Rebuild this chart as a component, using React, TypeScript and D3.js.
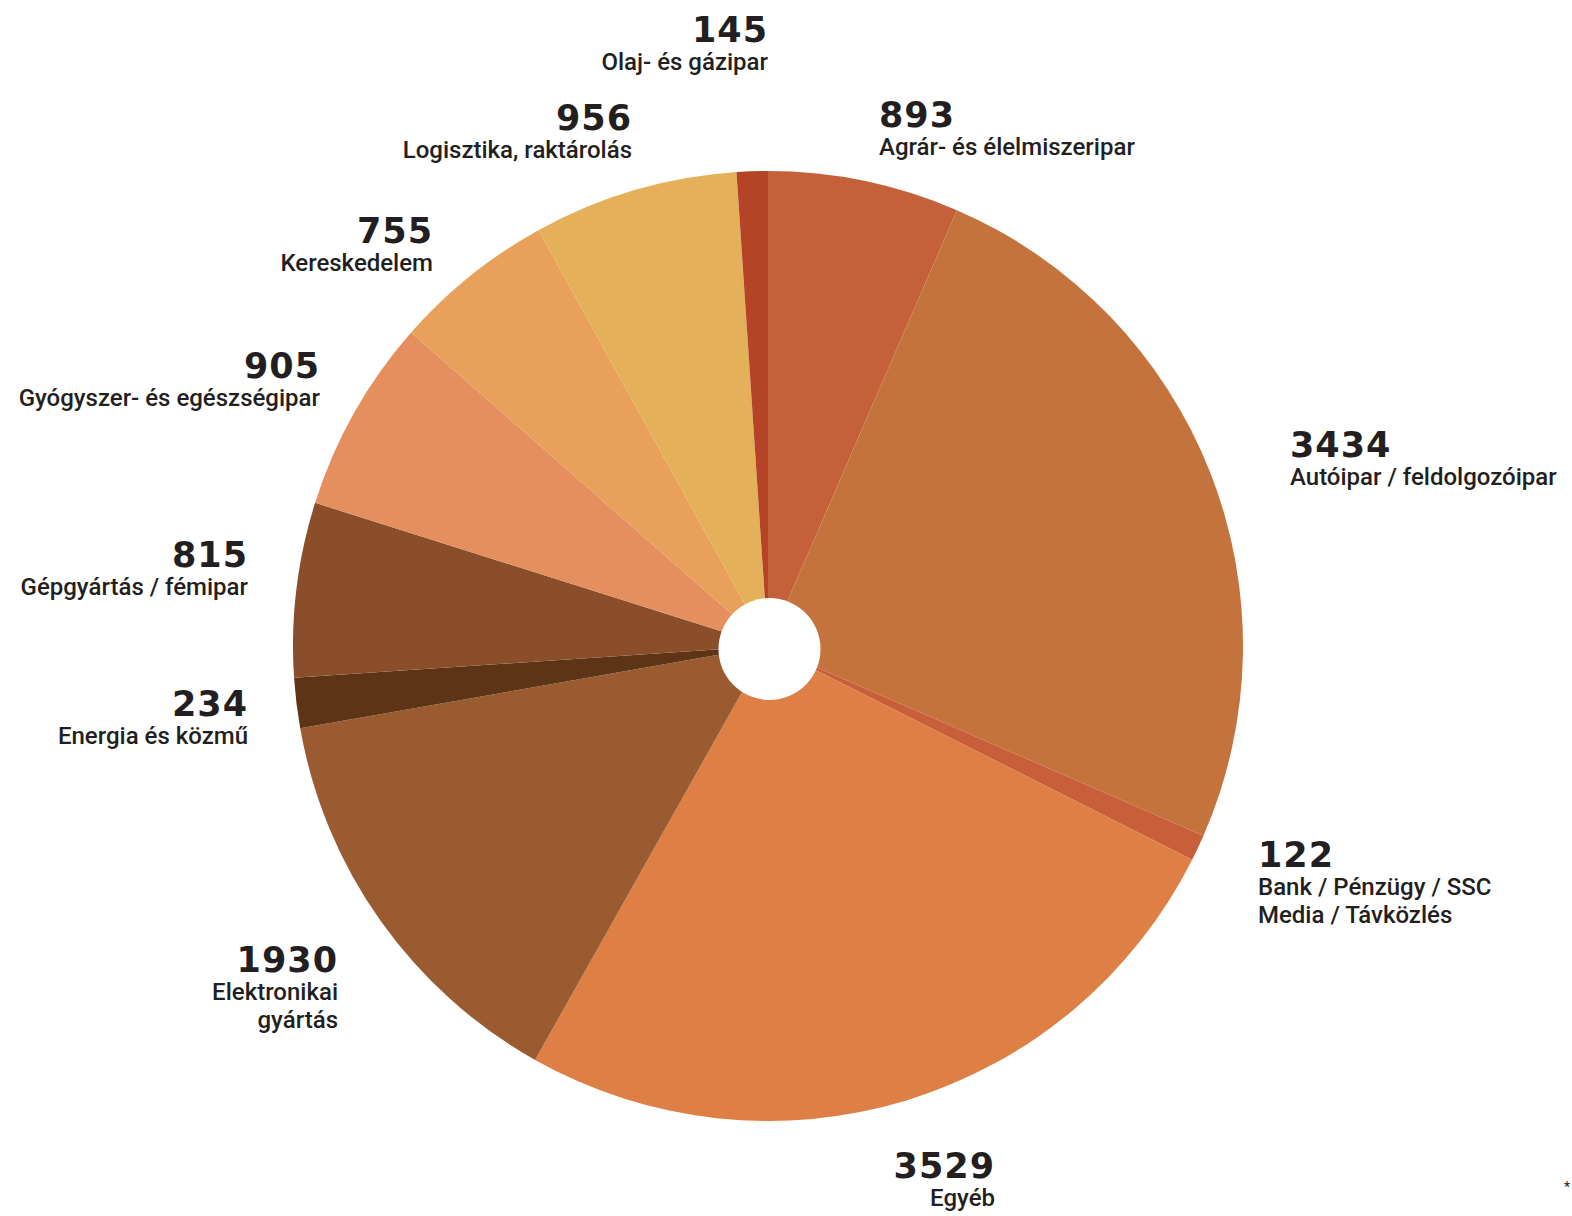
import React from "react";
import * as d3 from "d3";

const categories = [
  "Agrár- és élelmiszeripar",
  "Autóipar / feldolgozóipar",
  "Bank / Pénzügy / SSC|Media / Távközlés",
  "Egyéb",
  "Elektronikai|gyártás",
  "Energia és közmű",
  "Gépgyártás / fémipar",
  "Gyógyszer- és egészségipar",
  "Kereskedelem",
  "Logisztika, raktárolás",
  "Olaj- és gázipar",
];
const values = [893, 3434, 122, 3529, 1930, 234, 815, 905, 755, 956, 145];
const colors = [
  "#c4603a",
  "#c4733c",
  "#c95f3a",
  "#de7f45",
  "#9a5b30",
  "#5e3417",
  "#8a4e2a",
  "#e58f5f",
  "#e8a05a",
  "#e4b15a",
  "#b54325",
];

// label anchor: x, number baseline y, text-anchor
const labelPos: [number, number, "start" | "end"][] = [
  [879, 127, "start"],
  [1290, 457, "start"],
  [1258, 867, "start"],
  [995, 1178, "end"],
  [338, 972, "end"],
  [248, 716, "end"],
  [248, 567, "end"],
  [320, 378, "end"],
  [433, 243, "end"],
  [632, 130, "end"],
  [768, 42, "end"],
];

const width = 1572,
  height = 1216;
const cx = 768,
  cy = 646,
  outerR = 475,
  holeR = 51;

const App = () => {
  const pie = d3
    .pie<number>()
    .sort(null)
    .value((d) => d);
  const arcs = pie(values);
  const arc = d3
    .arc<d3.PieArcDatum<number>>()
    .innerRadius(0)
    .outerRadius(outerR);

  return (
    <svg
      width={width}
      height={height}
      style={{ position: "absolute", left: 0, top: 0, background: "#fff" }}
    >
      <g transform={`translate(${cx},${cy})`}>
        {arcs.map((a, i) => (
          <path key={i} d={arc(a) || ""} fill={colors[i]} />
        ))}
        <circle cx={1.5} cy={3} r={holeR} fill="#fff" />
      </g>
      {categories.map((c, i) => {
        const [x, y, anchor] = labelPos[i];
        const lines = c.split("|");
        return (
          <g key={c} textAnchor={anchor} fill="#231f20">
            <text
              x={x}
              y={y}
              style={{
                fontFamily: "'DejaVu Sans', sans-serif",
                fontWeight: 700,
                fontSize: 35,
                letterSpacing: 1,
              }}
            >
              {values[i]}
            </text>
            {lines.map((l, j) => (
              <text
                key={j}
                x={x}
                y={y + 28 + j * 28}
                style={{
                  fontFamily: "Roboto, sans-serif",
                  fontWeight: 500,
                  fontSize: 24,
                }}
              >
                {l}
              </text>
            ))}
          </g>
        );
      })}
      <text
        x={1564}
        y={1192}
        style={{ fontFamily: "Roboto, sans-serif", fontSize: 14 }}
        fill="#231f20"
      >
        *
      </text>
    </svg>
  );
};

export default App;
